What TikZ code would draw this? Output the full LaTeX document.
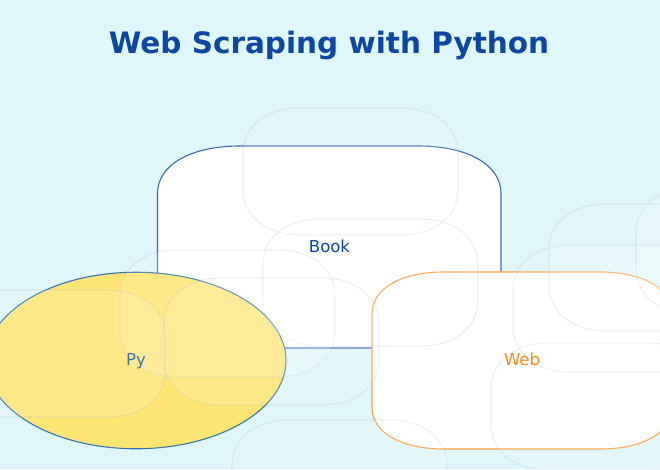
\documentclass[tikz,border=0pt]{standalone}
\usepackage{fontspec}
\setmainfont{DejaVu Sans}
\usetikzlibrary{shapes.geometric}
\definecolor{pagebg}{HTML}{DFF6FA}
\definecolor{bookblue}{HTML}{0D47A1}
\definecolor{pyblue}{HTML}{3776AB}
\definecolor{pyyellow}{HTML}{FFE574}
\definecolor{weborange}{HTML}{FF8C1A}
\definecolor{ghostline}{HTML}{9DB8E0}
\tikzset{
  boxline/.style={line width=1.1pt},
  ghost/.style={line width=1.1pt, draw=ghostline, draw opacity=0.2, fill=white, fill opacity=0.15},
  label/.style={font=\fontsize{16.5}{20}\selectfont, inner sep=0pt},
}
\def\softfx{0.24}
\def\softfy{0.235}
% box with wide soft corners: left, top, right, bottom
\newcommand{\softbox}[5][]{
  \pgfmathsetmacro{\rx}{(#4-#2)*\softfx}
  \pgfmathsetmacro{\ry}{(#5-#3)*\softfy}
  \pgfmathsetmacro{\kx}{\rx*0.4}
  \pgfmathsetmacro{\ky}{\ry*0.4}
  \path[#1] (#2+\rx,#3) -- (#4-\rx,#3)
    .. controls (#4-\kx,#3) and (#4,#3+\ky) .. (#4,#3+\ry) -- (#4,#5-\ry)
    .. controls (#4,#5-\ky) and (#4-\kx,#5) .. (#4-\rx,#5) -- (#2+\rx,#5)
    .. controls (#2+\kx,#5) and (#2,#5-\ky) .. (#2,#5-\ry) -- (#2,#3+\ry)
    .. controls (#2,#3+\ky) and (#2+\kx,#3) .. (#2+\rx,#3) -- cycle;
}
\begin{document}
\begin{tikzpicture}[x=1pt,y=-1pt]
  \useasboundingbox (0,0) rectangle (660,469);
  \clip (0,0) rectangle (660,469);
  \fill[pagebg] (0,0) rectangle (660,469);

  \node[font=\fontsize{29.5}{34}\selectfont\bfseries, text=bookblue, inner sep=0pt] (title) at (329,45.5) {Web Scraping with Python};

  \softbox[boxline, draw=bookblue!80!white, fill=white]{157.5}{146}{501}{348}

  \node[draw=pyblue, fill=pyyellow, line width=1.1pt, ellipse, minimum width=300pt, minimum height=176.5pt, inner sep=0pt] (pyshape) at (136,360.5) {};

  \softbox[boxline, draw=weborange!85!white, fill=white]{372}{272}{672}{449}

  % faint boxes on top
  \def\softfx{0.27}
  \def\softfy{0.36}
  \foreach \gx/\gy in {243/108, 263/219, 120/250, 164/278, -50/290, 232/420, 491/343, 513/245, 549/204, 636/187}
  {
    \pgfmathsetmacro{\gxr}{\gx+215}
    \pgfmathsetmacro{\gyb}{\gy+127}
    \softbox[ghost]{\gx}{\gy}{\gxr}{\gyb}
  }

  \node[label, text=bookblue] (book) at (329.5,246.5) {Book};
  \node[label, text=pyblue] (py) at (136,361) {Py};
  \node[label, text=weborange] (web) at (522,359.5) {Web};
\end{tikzpicture}
\end{document}
